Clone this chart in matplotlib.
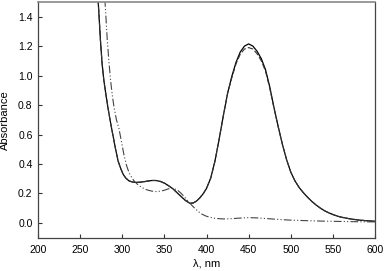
import matplotlib
matplotlib.use("Agg")
import matplotlib.pyplot as plt
from matplotlib.ticker import FormatStrFormatter

plt.rcParams["font.family"] = ["Liberation Sans", "DejaVu Sans"]

# solid curve (wavelength nm, absorbance)
solid_wl = [268, 270, 272, 274, 276, 278, 280, 283, 286, 289, 292, 295, 298, 301,
            304, 308, 312, 316, 320, 325, 330, 335, 340, 345, 350, 355, 360, 365,
            370, 375, 380, 384, 388, 392, 396, 400, 405, 410, 415, 420, 425, 430,
            435, 440, 445, 450, 455, 460, 465, 470, 475, 480, 485, 490, 495, 500,
            505, 510, 515, 520, 525, 530, 535, 540, 545, 550, 555, 560, 570, 580, 590, 600]
solid_abs = [1.80, 1.62, 1.44, 1.24, 1.08, 0.97, 0.89, 0.78, 0.68, 0.59, 0.50, 0.42, 0.37, 0.33,
             0.305, 0.285, 0.278, 0.275, 0.276, 0.279, 0.284, 0.288, 0.288, 0.282, 0.270, 0.252, 0.232, 0.205,
             0.178, 0.152, 0.134, 0.135, 0.148, 0.170, 0.198, 0.235, 0.305, 0.42, 0.57, 0.73, 0.88, 0.995,
             1.09, 1.16, 1.20, 1.215, 1.20, 1.165, 1.115, 1.04, 0.925, 0.785, 0.655, 0.535, 0.43, 0.345,
             0.285, 0.24, 0.205, 0.174, 0.146, 0.122, 0.101, 0.083, 0.069, 0.057, 0.047, 0.039, 0.028, 0.020, 0.015, 0.011]

# dashed curve: follows the solid one, slightly lower at the band maximum
dashed_abs = [1.80, 1.62, 1.44, 1.24, 1.08, 0.97, 0.89, 0.78, 0.68, 0.59, 0.50, 0.42, 0.37, 0.33,
              0.305, 0.285, 0.278, 0.275, 0.276, 0.279, 0.284, 0.288, 0.288, 0.282, 0.270, 0.252, 0.232, 0.205,
              0.178, 0.152, 0.134, 0.135, 0.148, 0.170, 0.198, 0.235, 0.305, 0.42, 0.57, 0.73, 0.88, 0.985,
              1.08, 1.145, 1.18, 1.19, 1.18, 1.148, 1.10, 1.03, 0.915, 0.78, 0.655, 0.535, 0.43, 0.345,
              0.285, 0.24, 0.205, 0.174, 0.146, 0.122, 0.101, 0.083, 0.069, 0.057, 0.047, 0.039, 0.028, 0.020, 0.015, 0.011]

# dash-dot-dot curve
ddot_wl = [276, 278, 280, 282, 284, 286, 288, 290, 293, 296, 299, 302, 305, 308, 311,
           314, 318, 322, 326, 330, 335, 340, 345, 350, 355, 358, 362, 366, 370, 375,
           380, 385, 390, 395, 400, 405, 410, 420, 430, 440, 450, 460, 470, 480, 490,
           500, 520, 540, 560, 580, 600]
ddot_abs = [1.80, 1.62, 1.45, 1.25, 1.10, 0.97, 0.87, 0.79, 0.70, 0.64, 0.55, 0.46, 0.39, 0.34, 0.31,
            0.285, 0.262, 0.245, 0.232, 0.223, 0.216, 0.213, 0.215, 0.222, 0.232, 0.236, 0.232, 0.220, 0.200, 0.168,
            0.135, 0.105, 0.078, 0.058, 0.045, 0.037, 0.031, 0.027, 0.029, 0.033, 0.036, 0.034, 0.030, 0.026, 0.022,
            0.019, 0.015, 0.012, 0.010, 0.008, 0.007]

x_ticks = [200, 250, 300, 350, 400, 450, 500, 550, 600]
y_ticks = [0.0, 0.2, 0.4, 0.6, 0.8, 1.0, 1.2, 1.4]

fig = plt.figure(figsize=(3.85, 2.71), dpi=100)
ax = fig.add_axes([0.099, 0.123, 0.875, 0.870])

ax.plot(solid_wl, solid_abs, color="black", lw=0.9)
ax.plot(solid_wl, dashed_abs, color="#333333", lw=0.8, ls=(0, (5, 2)))
ax.plot(ddot_wl, ddot_abs, color="#444444", lw=0.8, ls=(0, (7, 2, 1, 2, 1, 2)))

ax.set_xlim(200, 600)
ax.set_ylim(-0.1, 1.5)
ax.set_xticks(x_ticks)
ax.set_yticks(y_ticks)
ax.yaxis.set_major_formatter(FormatStrFormatter("%.1f"))
ax.tick_params(direction="in", length=3, width=0.8, labelsize=7.5, color="#333333")
ax.tick_params(axis="x", pad=5)
ax.tick_params(axis="y", pad=4)

for side in ["left", "bottom", "right"]:
    ax.spines[side].set_color("#444444")
    ax.spines[side].set_linewidth(0.9)
ax.spines["top"].set_color("#888888")
ax.spines["top"].set_linewidth(1.2)

ax.set_xlabel("λ, nm", fontsize=8, labelpad=3)
ax.set_ylabel("Absorbance", fontsize=8, labelpad=6)

fig.savefig("out.png", dpi=100)
